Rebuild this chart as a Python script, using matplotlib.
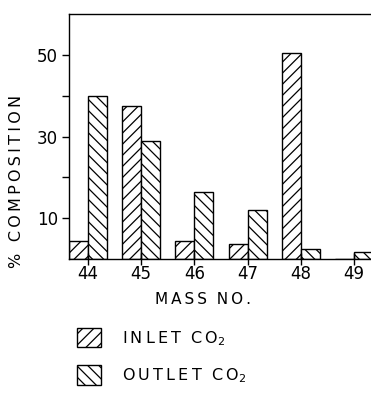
import matplotlib
matplotlib.use("Agg")
import matplotlib.pyplot as plt
import numpy as np

plt.rcParams['hatch.linewidth'] = 0.9
plt.rcParams['font.family'] = ['DejaVu Sans']

mass_no = [44, 45, 46, 47, 48, 49]
inlet = [4.5, 37.5, 4.3, 3.7, 50.5, 0.0]
outlet = [40.0, 29.0, 16.5, 12.0, 2.5, 1.6]
ytick_vals = [10, 20, 30, 40, 50]
ytick_labels = ['10', '', '30', '', '50']

TS = '\u2009'


def track(s):
    return TS.join(list(s))


fig = plt.figure(figsize=(3.71, 3.95), dpi=100)
ax = fig.add_axes([69/371, 1-259/395, 1-69/371, (259-14)/395])

x = np.array(mass_no, dtype=float)
w = 0.357
b1 = ax.bar(x - w/2, inlet, width=w, facecolor='white', edgecolor='black',
            hatch='///', linewidth=1.0)
b2 = ax.bar(x + w/2, outlet, width=w, facecolor='white', edgecolor='black',
            hatch='\\\\\\', linewidth=1.0)

ax.set_xlim(44 - 0.357, 49.32)
ax.set_ylim(0, 60)
ax.set_yticks(ytick_vals)
ax.set_yticklabels(ytick_labels, fontsize=12)
ax.set_xticks(mass_no)
ax.set_xticklabels([str(m) for m in mass_no], fontsize=12)
ax.tick_params(axis='y', direction='out', length=5, width=1, pad=3)
ax.tick_params(axis='x', direction='inout', length=9, width=1, pad=0)
ax.spines['right'].set_visible(False)
for s in ['left', 'top', 'bottom']:
    ax.spines[s].set_linewidth(1.0)

fig.text(17/371, 1-181/395, track('% COMPOSITION'), rotation=90,
         ha='center', va='center', fontsize=11.5)
fig.text(203/371, 1-300/395, track('MASS') + '  ' + track('NO.'),
         ha='center', va='center', fontsize=11)

lab1 = track('INLET') + '  ' + track('CO') + '$_2$'
lab2 = track('OUTLET') + '  ' + track('CO') + '$_2$'
leg = fig.legend(handles=[b1, b2], labels=[lab1, lab2], loc='upper left',
                 bbox_to_anchor=(77/371, 1-328/395), frameon=False,
                 fontsize=11.5, handlelength=1.5, handleheight=1.5,
                 handletextpad=1.3, labelspacing=1.1,
                 borderpad=0, borderaxespad=0)

fig.savefig('out.png', dpi=100)
